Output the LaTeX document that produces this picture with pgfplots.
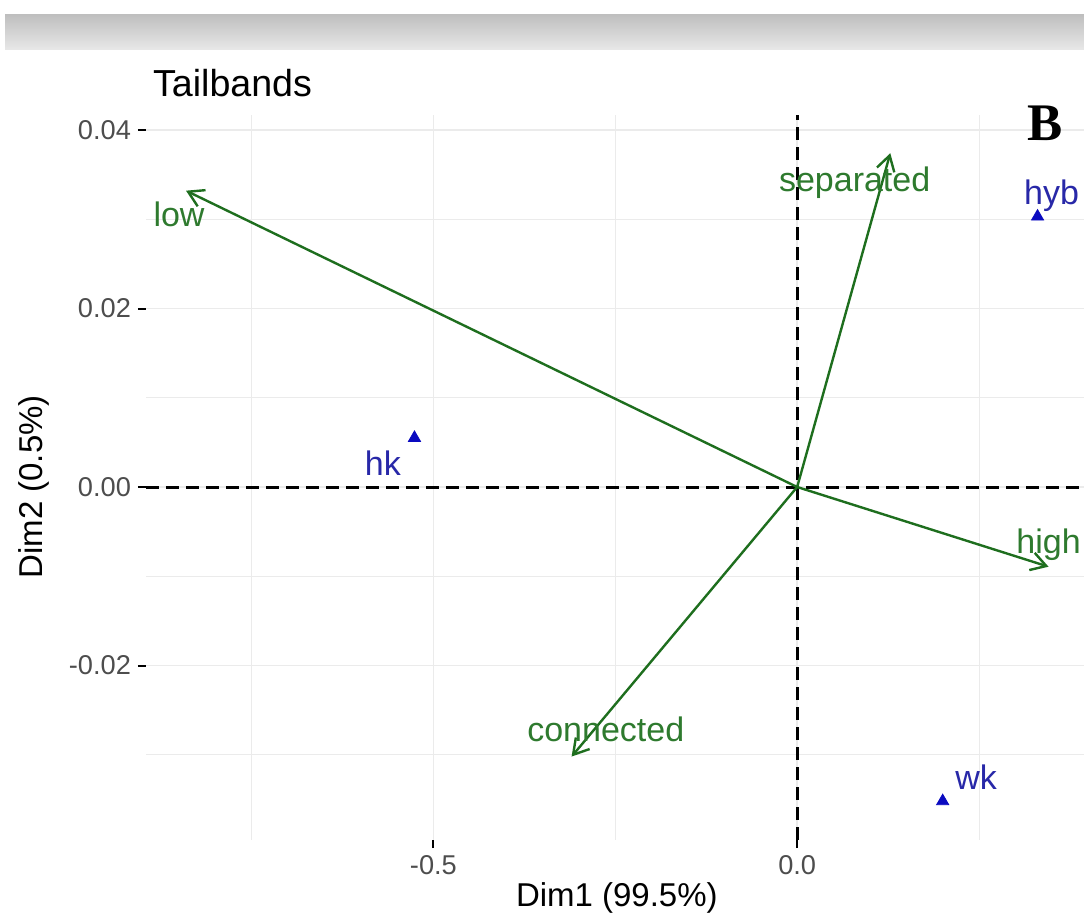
\documentclass[border=0pt]{standalone}
\usepackage{pgfplots}
\pgfplotsset{compat=1.18}
\usepackage{fontspec}
\setmainfont{Liberation Sans}
\newfontfamily\serifB{Liberation Serif}
\usetikzlibrary{arrows.meta}
\definecolor{arrowgreen}{HTML}{1E6E1E}
\definecolor{textgreen}{HTML}{2E7A2E}
\definecolor{ptblue}{HTML}{0A0AC0}
\definecolor{textblue}{HTML}{2828A8}
\definecolor{gridgray}{HTML}{EBEBEB}
\definecolor{ticktext}{HTML}{4D4D4D}
\newcommand\lblfont{\fontsize{17}{20}\selectfont}
\begin{document}
\begin{tikzpicture}[x=1pt,y=1pt]
\path[use as bounding box] (0,0) rectangle (542,459);
\shade[top color=gray!50, bottom color=gray!18] (2.5,434) rectangle (542,451.5);
\begin{axis}[
  at={(73pt,39pt)}, anchor=south west,
  scale only axis, width=469pt, height=362.5pt,
  xmin=-0.895, xmax=0.3942, ymin=-0.03955, ymax=0.04168,
  clip=false,
  scaled x ticks=false, scaled y ticks=false,
  axis x line*=bottom, axis y line*=left,
  axis line style={draw=none},
  xtick={-0.5,0}, xticklabels={-0.5,0.0},
  ytick={-0.02,0,0.02,0.04}, yticklabels={-0.02,0.00,0.02,0.04},
  minor xtick={-0.75,-0.25,0.25},
  minor ytick={-0.03,-0.01,0.01,0.03},
  grid=both,
  major grid style={draw=gridgray, line width=0.8pt},
  minor grid style={draw=gridgray, line width=0.5pt},
  tick align=outside,
  major tick length=4pt, minor tick length=0pt,
  tick style={black, line width=1pt},
  ticklabel style={font=\fontsize{13.6}{16}\selectfont, text=ticktext},
  xlabel={Dim1 (99.5\%)},
  xlabel style={at={(axis description cs:0.502,-0.0924)}, anchor=base, font=\fontsize{16.5}{20}\selectfont},
  ylabel={Dim2 (0.5\%)},
  ylabel style={at={(axis description cs:-0.1194,0.487)}, anchor=center, font=\fontsize{16.5}{20}\selectfont},
]
% reference lines at zero
\addplot[black, dash pattern=on 6.5pt off 3.5pt, line width=1.5pt] coordinates {(-0.895,0) (0.3942,0)};
\addplot[black, dash pattern=on 6.5pt off 3.5pt, line width=1.5pt] coordinates {(0,-0.03955) (0,0.04168)};
% column arrows
\addplot[arrowgreen, line width=1.2pt, -{Straight Barb[length=7.5pt,width=9pt]}] coordinates {(0,0) (-0.840,0.0332)};
\addplot[arrowgreen, line width=1.2pt, -{Straight Barb[length=7.5pt,width=9pt]}] coordinates {(0,0) (0.128,0.0374)};
\addplot[arrowgreen, line width=1.2pt, -{Straight Barb[length=7.5pt,width=9pt]}] coordinates {(0,0) (0.3455,-0.00893)};
\addplot[arrowgreen, line width=1.2pt, -{Straight Barb[length=7.5pt,width=9pt]}] coordinates {(0,0) (-0.310,-0.0302)};
% row points
\addplot[only marks, mark=triangle*, mark size=3.5pt, color=ptblue] coordinates {(-0.526,0.0055) (0.3304,0.0303) (0.200,-0.0352)};
% labels
\node[anchor=base, text=textblue, font=\lblfont] at (axis cs:-0.5694,0.00134) {hk};
\node[anchor=base, text=textblue, font=\lblfont] at (axis cs:0.3496,0.0317) {hyb};
\node[anchor=base, text=textblue, font=\lblfont] at (axis cs:0.2459,-0.03384) {wk};
\node[anchor=base, text=textgreen, font=\lblfont] at (axis cs:-0.8496,0.02917) {low};
\node[anchor=base, text=textgreen, font=\lblfont] at (axis cs:0.079,0.0331) {separated};
\node[anchor=base, text=textgreen, font=\lblfont] at (axis cs:0.3455,-0.0074) {high};
\node[anchor=base, text=textgreen, font=\lblfont] at (axis cs:-0.2631,-0.02854) {connected};
% title and panel tag
\node[anchor=base west, font=\fontsize{18.8}{22}\selectfont] at (axis description cs:0,1.0262) {Tailbands};
\node[anchor=base, font=\serifB\bfseries\fontsize{26.4}{30}\selectfont] at (axis description cs:0.9584,0.9655) {B};
\end{axis}
\end{tikzpicture}
\end{document}
